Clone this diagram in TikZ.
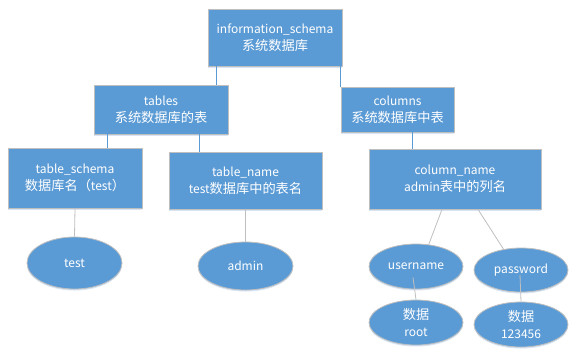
\documentclass[tikz,border=0pt]{standalone}
\usepackage{fontspec}
\setmainfont{Noto Sans CJK SC}
\newfontfamily\hanzi[Scale=1.1]{Noto Sans CJK SC}
\definecolor{dbblue}{RGB}{91,155,213}
\definecolor{dbedge}{RGB}{191,191,191}
\definecolor{dbshade}{RGB}{214,228,243}
\usetikzlibrary{positioning,shapes.geometric,calc,shadows}

\begin{document}
\begin{tikzpicture}[x=1pt,y=-1pt,
  dbbox/.style={draw=dbedge,fill=dbblue,line width=0.8pt,text=white,align=center,
    font=\fontsize{12}{17}\selectfont,inner sep=2pt,
    drop shadow={shadow xshift=0pt,shadow yshift=-1.5pt,fill=dbshade,opacity=1}},
  dbfield/.style={dbbox,ellipse,inner sep=0pt},
  dbtree/.style={draw=dbblue,line width=0.8pt},
  dbleaf/.style={draw=dbedge,line width=0.8pt}
]
  \useasboundingbox (0,0) rectangle (572,349);
  % Schema level
  \node[dbbox,minimum width=134pt,minimum height=57pt] (info) at (275,37.5) {
    information\_schema\\
    {\hanzi 系统数据库}};
  % System tables
  \node[dbbox,minimum width=134pt,minimum height=49pt] (tables) at (161,109.5) {
    tables\\
    {\hanzi 系统数据库的表}};
  \node[dbbox,minimum width=113pt,minimum height=45pt] (columns) at (397.5,109.5) {
    columns\\
    {\hanzi 系统数据库中表}};
  % Fields of the tables
  \node[dbbox,minimum width=134pt,minimum height=60pt] (schema) at (75,178) {
    table\_schema\\
    {\hanzi 数据库名（}test{\hanzi ）}};
  \node[dbbox,minimum width=153pt,minimum height=57pt] (tname) at (245.5,180.5) {
    table\_name\\
    test{\hanzi 数据库中的表名}};
  \node[dbbox,minimum width=172pt,minimum height=60pt] (cname) at (455,179) {
    column\_name\\
    admin{\hanzi 表中的列名}};
  % Values
  \node[dbfield,minimum width=95pt,minimum height=52pt] (test) at (74.5,263) {test};
  \node[dbfield,minimum width=95pt,minimum height=48pt] (admin) at (245.5,266) {admin};
  \node[dbfield,minimum width=94pt,minimum height=45pt] (user) at (416,266.5) {username};
  \node[dbfield,minimum width=94pt,minimum height=44pt] (pass) at (521,270) {password};
  \node[dbfield,minimum width=94pt,minimum height=45pt] (root) at (416,322.5) {{\hanzi 数据}\\root};
  \node[dbfield,minimum width=94pt,minimum height=45pt] (pwd) at (521,324.5) {{\hanzi 数据}\\123456};
  % Blue tree lines
  \draw[dbtree] ([xshift=9pt]info.south west) -- ([xshift=9pt]info.south west |- tables.north);
  \draw[dbtree] ([xshift=-2pt]info.south east) -- ([xshift=-2pt]info.south east |- columns.north);
  \draw[dbtree] ([xshift=14pt]tables.south west) -- ([xshift=14pt]tables.south west |- schema.north);
  \draw[dbtree] ([xshift=-29pt]tables.south east) -- ([xshift=-29pt]tables.south east |- tname.north);
  \draw[dbtree] ([xshift=15pt]columns.south) -- ([xshift=15pt]columns.south |- cname.north);
  % Grey value lines
  \draw[dbleaf] (schema.south) -- (test.north);
  \draw[dbleaf] (tname.south) -- (admin.north);
  \draw[dbleaf] ([xshift=-13pt]cname.south) -- (user.60);
  \draw[dbleaf] ([xshift=23pt]cname.south) -- (pass.130);
  \draw[dbleaf] ([xshift=-3pt,yshift=-11pt]user.center) -- (root.north);
  \draw[dbleaf] ([xshift=-1pt,yshift=-5pt]pass.center) -- (pwd.north);
\end{tikzpicture}
\end{document}
